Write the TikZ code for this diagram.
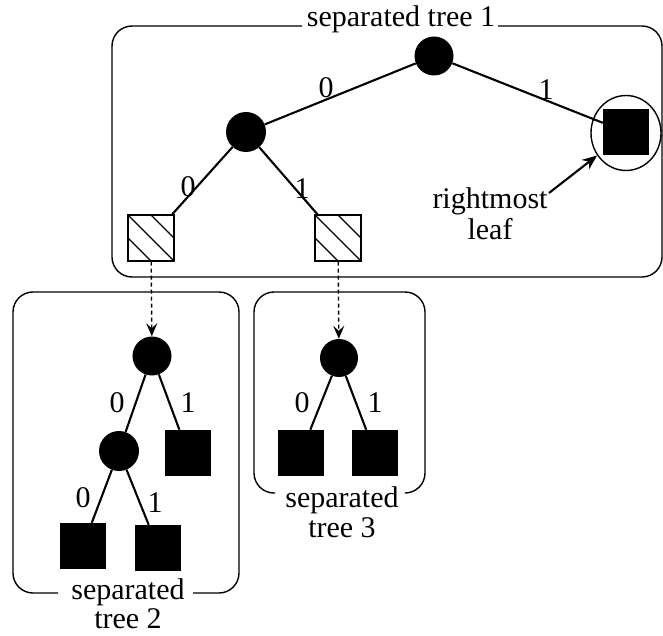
\documentclass[tikz,border=0pt]{standalone}
\usepackage{fontspec}
\setmainfont{Liberation Serif}
\usetikzlibrary{arrows.meta,shapes.geometric}
\begin{document}
\begin{tikzpicture}[x=1pt,y=-1pt,
  inner/.style={circle,fill=black,inner sep=0pt,minimum size=39pt},
  leafbox/.style={rectangle,fill=black,inner sep=0pt,minimum size=46pt},
  hatchbox/.style={rectangle,draw,line width=1.4pt,inner sep=0pt,minimum size=46pt,fill=white,
    path picture={
      \draw[line width=1.4pt] (path picture bounding box.north west) -- (path picture bounding box.south east);
      \draw[line width=1.4pt] (path picture bounding box.north) -- (path picture bounding box.east);
      \draw[line width=1.4pt] (path picture bounding box.west) -- (path picture bounding box.south);
    }},
  edge/.style={line width=2.1pt},
  frame/.style={line width=1.4pt,rounded corners=20pt},
  lbl/.style={font=\fontsize{30}{30}\selectfont,inner sep=0pt},
  upperline/.style={lbl,anchor=base,text depth=0pt},
  lowerline/.style={lbl,anchor=base,text height=18pt},
  dashlink/.style={line width=1.4pt,dash pattern=on 4pt off 3pt,-{Stealth[length=13pt,width=11pt,inset=5pt]}},
  pointer/.style={line width=2.1pt,-{Stealth[length=15pt,width=12pt,inset=5pt]}},
]
\useasboundingbox (0,0) rectangle (663,636);

% ---- separated tree 1 ----
\draw[frame] (302,26) -- (112,26) -- (112,277) -- (662,277) -- (662,26) -- (498,26);
\node[lbl,anchor=base] (title1) at (401,27) {separated tree 1};

\node[inner] (root1) at (434,56) {};
\node[inner,minimum size=40pt] (n1) at (246,132) {};
\node[leafbox] (leaf1) at (626,132) {};
\node[draw,ellipse,line width=1.4pt,minimum width=70pt,minimum height=75pt,inner sep=0pt] (ring) at (626,133) {};
\node[hatchbox] (h1) at (151,238) {};
\node[hatchbox] (h2) at (338,238) {};

\draw[edge] (root1) -- (n1);
\draw[edge] (root1) -- (leaf1);
\draw[edge] (n1) -- (h1);
\draw[edge] (n1) -- (h2);

\node[lbl] (e1) at (326,88) {0};
\node[lbl] (e2) at (546,90) {1};
\node[lbl] (e3) at (188,187) {0};
\node[lbl] (e4) at (302,189) {1};

\node[upperline] (rm1) at (490,208) {rightmost};
\node[lowerline] (rm2) at (490,240) {leaf};
\coordinate (rmstart) at (549,193);
\draw[pointer] (rmstart) -- (ring);

% ---- separated tree 2 ----
\draw[frame] (58,593) -- (13,593) -- (13,292) -- (239,292) -- (239,593) -- (193,593);
\node[upperline] (title2a) at (128,599) {separated};
\node[lowerline] (title2b) at (128,628) {tree 2};

\node[inner] (r2) at (152,356) {};
\node[inner,minimum size=40pt] (m2) at (119,451) {};
\node[leafbox] (l2a) at (188,453) {};
\node[leafbox] (l2b) at (83,546) {};
\node[leafbox] (l2c) at (158,548) {};

\draw[edge] (r2) -- (m2);
\draw[edge] (r2) -- (l2a);
\draw[edge] (m2) -- (l2b);
\draw[edge] (m2) -- (l2c);

\node[lbl] (f1) at (117,403) {0};
\node[lbl] (f2) at (188,403) {1};
\node[lbl] (f3) at (83,498) {0};
\node[lbl] (f4) at (155,503) {1};

% ---- separated tree 3 ----
\draw[frame] (275,493) -- (254,493) -- (254,292) -- (425,292) -- (425,493) -- (407,493);
\node[upperline] (title3a) at (342,507) {separated};
\node[lowerline] (title3b) at (342,537) {tree 3};

\node[inner,minimum size=38pt] (r3) at (339,358) {};
\node[leafbox] (l3a) at (301,453) {};
\node[leafbox] (l3b) at (375,453) {};

\draw[edge] (r3) -- (l3a);
\draw[edge] (r3) -- (l3b);

\node[lbl] (g1) at (302,403) {0};
\node[lbl] (g2) at (375,403) {1};

% ---- links ----
\draw[dashlink] (h1) -- (r2);
\draw[dashlink] (h2) -- (r3);
\end{tikzpicture}
\end{document}
